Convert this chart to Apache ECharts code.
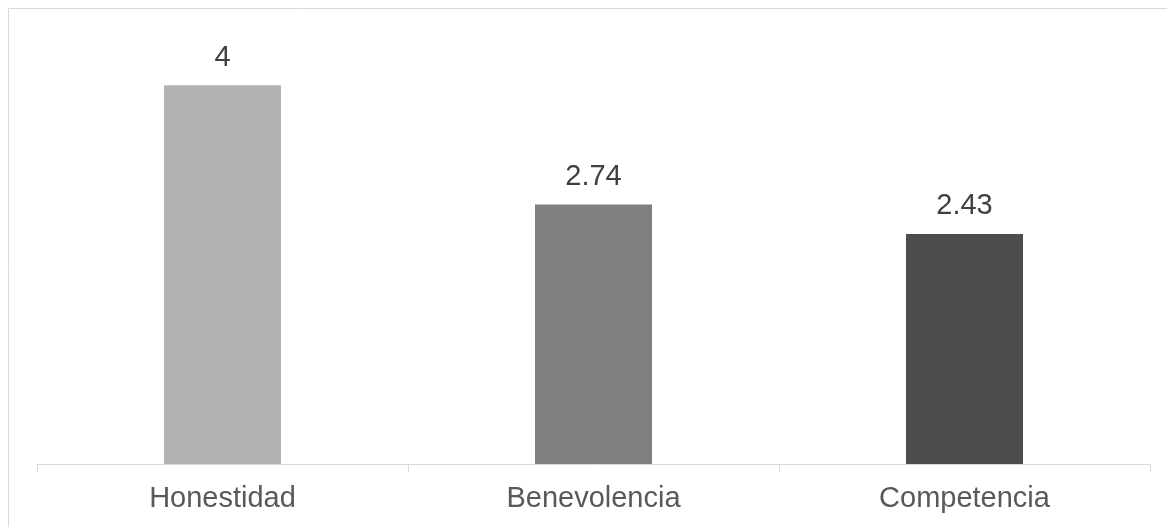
<!DOCTYPE html>
<html>
<head>
<meta charset="utf-8">
<script src="https://cdn.jsdelivr.net/npm/echarts@6/dist/echarts.min.js"></script>
<style>
  html, body { margin: 0; padding: 0; background: #fff; }
  #chart { width: 1167px; height: 527px; }
</style>
</head>
<body>
<div id="chart"></div>
<script>
// Mean scores per trust dimension
const categories = ['Honestidad', 'Benevolencia', 'Competencia'];
const values = [4, 2.74, 2.43];
const barColors = ['#b2b2b2', '#7f7f7f', '#4d4d4d'];

const chart = echarts.init(document.getElementById('chart'));
const font = '"Liberation Sans", Arial, sans-serif';

chart.setOption({
  animation: false,
  backgroundColor: '#fff',
  graphic: [{
    type: 'rect',
    shape: { x: 8.5, y: 8.5, width: 1200, height: 600 },
    style: { fill: 'none', stroke: '#d9d9d9', lineWidth: 1 },
    silent: true
  }],
  grid: { left: 37, right: 17, top: 38, bottom: 63 },
  xAxis: {
    type: 'category',
    data: categories,
    axisLine: { lineStyle: { color: '#d9d9d9', width: 1 } },
    axisTick: { show: true, length: 8, lineStyle: { color: '#d9d9d9' } },
    axisLabel: { color: '#595959', fontSize: 29, fontFamily: font, margin: 20 }
  },
  yAxis: {
    type: 'value',
    min: 0,
    max: 4.5,
    show: false,
    splitLine: { show: false }
  },
  series: [{
    type: 'bar',
    barWidth: 117,
    data: values.map((v, i) => ({ value: v, itemStyle: { color: barColors[i] } })),
    label: {
      show: true,
      position: 'top',
      distance: 13,
      color: '#404040',
      fontSize: 29,
      fontFamily: font
    }
  }]
});
</script>
</body>
</html>
